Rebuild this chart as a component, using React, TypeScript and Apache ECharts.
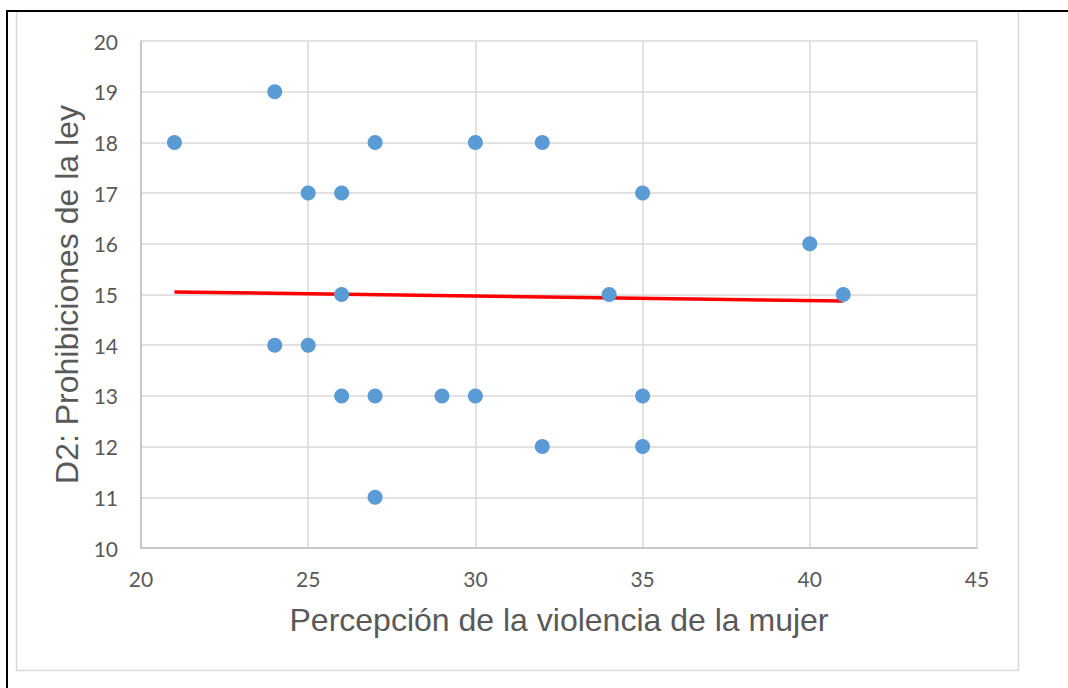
import React, { useEffect, useRef } from "react";
import * as echarts from "echarts";

const xValues = [21, 24, 27, 30, 32, 25, 26, 35, 40, 26, 34, 41, 24, 25, 26, 27, 29, 30, 35, 32, 35, 27];
const yValues = [18, 19, 18, 18, 18, 17, 17, 17, 16, 15, 15, 15, 14, 14, 13, 13, 13, 13, 13, 12, 12, 11];
const trendX = [21, 41];
const trendY = [15.05, 14.87];
const xTitle = "Percepción de la violencia de la mujer";
const yTitle = "D2: Prohibiciones de la ley";

export default function App() {
  const ref = useRef<HTMLDivElement>(null);
  useEffect(() => {
    if (!ref.current) return;
    const chart = echarts.init(ref.current, null, { renderer: "svg" });
    const points = xValues.map((x, i) => [x, yValues[i]]);
    const trend = trendX.map((x, i) => [x, trendY[i]]);
    chart.setOption({
      animation: false,
      backgroundColor: "#ffffff",
      grid: { left: 141, right: 1068 - 977, top: 41, bottom: 688 - 548, containLabel: false },
      xAxis: {
        type: "value",
        min: 20,
        max: 45,
        interval: 5,
        name: xTitle,
        nameLocation: "middle",
        nameGap: 56,
        nameTextStyle: { fontFamily: "Liberation Sans", fontSize: 32, color: "#595959" },
        axisLine: { show: true, lineStyle: { color: "#bfbfbf", width: 1.5 } },
        axisTick: { show: false },
        axisLabel: { fontFamily: "Lato", fontSize: 21, color: "#595959", margin: 20 },
        splitLine: { show: true, lineStyle: { color: "#d9d9d9", width: 1.5 } },
      },
      yAxis: {
        type: "value",
        min: 10,
        max: 20,
        interval: 1,
        name: yTitle,
        nameLocation: "middle",
        nameGap: 55,
        nameRotate: 90,
        nameTextStyle: { fontFamily: "Liberation Sans", fontSize: 32, color: "#595959" },
        axisLine: { show: true, lineStyle: { color: "#bfbfbf", width: 1.5 } },
        axisTick: { show: false },
        axisLabel: { fontFamily: "Lato", fontSize: 21, color: "#595959", margin: 23 },
        splitLine: { show: true, lineStyle: { color: "#d9d9d9", width: 1.5 } },
      },
      series: [
        {
          type: "line",
          data: trend,
          showSymbol: false,
          symbol: "none",
          lineStyle: { color: "#ff0000", width: 3.5 },
          z: 2,
        },
        {
          type: "scatter",
          data: points,
          symbolSize: 15,
          itemStyle: { color: "#5b9bd5", opacity: 1 },
          z: 3,
        },
      ],
      graphic: [
        {
          type: "rect",
          shape: { x: 16.5, y: 11.5, width: 1002, height: 659 },
          style: { fill: "none", stroke: "#d9d9d9", lineWidth: 1.5 },
          silent: true,
        },
        {
          type: "line",
          shape: { x1: 6, y1: 11, x2: 1068, y2: 11 },
          style: { stroke: "#000000", lineWidth: 2 },
          silent: true,
        },
        {
          type: "line",
          shape: { x1: 7, y1: 10, x2: 7, y2: 688 },
          style: { stroke: "#000000", lineWidth: 2 },
          silent: true,
        },
      ],
    });
    return () => chart.dispose();
  }, []);
  return (
    <div
      ref={ref}
      style={{ position: "fixed", left: 0, top: 0, width: 1068, height: 688 }}
    />
  );
}
